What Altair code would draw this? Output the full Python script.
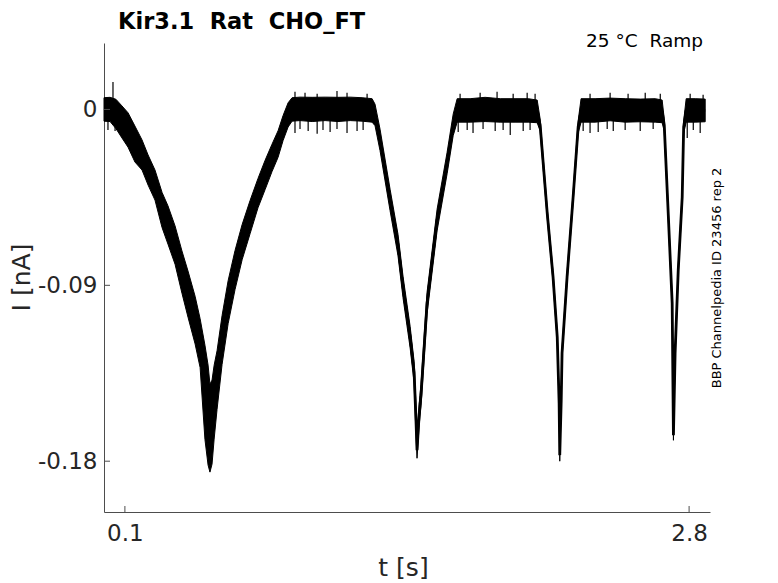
import altair as alt
import pandas as pd

# ---- data ----
t_s = [0.000, 0.029, 0.057, 0.086, 0.115, 0.148, 0.182, 0.211, 0.244, 0.278, 0.306, 0.340,
       0.373, 0.402, 0.436, 0.460, 0.483, 0.498, 0.507, 0.517, 0.527, 0.541, 0.565, 0.594,
       0.627, 0.661, 0.699, 0.737, 0.771, 0.804, 0.833, 0.857, 0.881, 0.900,
       0.938, 0.996, 1.058, 1.120, 1.178, 1.235, 1.283,
       1.297, 1.321, 1.369, 1.407, 1.431, 1.465, 1.484, 1.493, 1.498, 1.508, 1.517, 1.546,
       1.594, 1.642, 1.671, 1.690,
       1.752, 1.824, 1.896, 1.967, 2.030, 2.073,
       2.087, 2.121, 2.149, 2.169, 2.178, 2.181, 2.188, 2.192, 2.216, 2.245, 2.269, 2.283,
       2.350, 2.422, 2.494, 2.566, 2.638, 2.671,
       2.681, 2.700, 2.719, 2.725, 2.733, 2.748, 2.767, 2.774, 2.786, 2.829, 2.877]

current_nA = [0.0000, 0.0000, -0.0023, -0.0064, -0.0105, -0.0177, -0.0233, -0.0310, -0.0387,
              -0.0515, -0.0591, -0.0694, -0.0832, -0.0945, -0.1078, -0.1196, -0.1447, -0.1564,
              -0.1631, -0.1600, -0.1498, -0.1385, -0.1180, -0.0986, -0.0822, -0.0679, -0.0551,
              -0.0428, -0.0335, -0.0248, -0.0177, -0.0095, -0.0028, 0.0000,
              0.0003, 0.0000, 0.0003, 0.0000, 0.0003, 0.0000, -0.0005,
              -0.0028, -0.0156, -0.0463, -0.0694, -0.0909, -0.1165, -0.1344, -0.1590, -0.1744,
              -0.1564, -0.1462, -0.0991, -0.0566, -0.0274, -0.0079, -0.0005,
              -0.0005, 0.0000, -0.0005, -0.0005, -0.0005, -0.0010,
              -0.0079, -0.0530, -0.0858, -0.1165, -0.1503, -0.1769, -0.1488, -0.1247, -0.0858,
              -0.0448, -0.0090, -0.0005,
              -0.0005, 0.0000, -0.0005, -0.0005, -0.0005, -0.0010,
              -0.0079, -0.0530, -0.0991, -0.1667, -0.1247, -0.0822, -0.0448, -0.0090, -0.0005,
              -0.0005, -0.0005]

noise_half = [0.0060, 0.0062, 0.0075, 0.0082, 0.0088, 0.0092, 0.0077, 0.0077, 0.0077, 0.0090,
              0.0098, 0.0098, 0.0108, 0.0118, 0.0122, 0.0125, 0.0241, 0.0256, 0.0225, 0.0215,
              0.0189, 0.0150, 0.0125, 0.0110, 0.0100, 0.0090, 0.0085, 0.0075, 0.0075, 0.0070,
              0.0068, 0.0064, 0.0062, 0.0060,
              0.0060, 0.0062, 0.0060, 0.0062, 0.0060, 0.0060, 0.0060,
              0.0055, 0.0055, 0.0055, 0.0055, 0.0055, 0.0055, 0.0055, 0.0077, 0.0041, 0.0055,
              0.0055, 0.0055, 0.0055, 0.0055, 0.0055, 0.0060,
              0.0060, 0.0062, 0.0060, 0.0060, 0.0060, 0.0058,
              0.0031, 0.0025, 0.0025, 0.0025, 0.0026, 0.0031, 0.0026, 0.0025, 0.0025, 0.0025,
              0.0031, 0.0060,
              0.0060, 0.0058, 0.0060, 0.0058, 0.0060, 0.0058,
              0.0031, 0.0025, 0.0025, 0.0026, 0.0025, 0.0025, 0.0025, 0.0031, 0.0060, 0.0060,
              0.0058]

# visible noise spikes: time, top, bottom
spike_t = [0.043, 0.019, 0.053, 0.124,
           0.914, 0.938, 0.977, 1.020, 1.048, 1.082, 1.115, 1.163, 1.211, 1.240,
           0.914, 0.962, 1.020, 1.115, 1.163, 1.259,
           1.695, 1.738, 1.766, 1.814, 1.872, 1.910, 1.944, 2.006, 2.039,
           1.704, 1.800, 1.881, 1.958, 2.025, 2.063,
           2.293, 2.326, 2.365, 2.408, 2.437, 2.494, 2.566, 2.628,
           2.326, 2.422, 2.508, 2.590, 2.662,
           2.791, 2.820, 2.853, 2.805, 2.867]
spike_top = [0.0141, -0.004, -0.004, -0.012,
             -0.004, -0.004, -0.004, -0.004, -0.004, -0.004, -0.004, -0.004, -0.004, -0.004,
             0.0090, 0.0085, 0.0080, 0.0095, 0.0085, 0.0080,
             -0.004, -0.004, -0.004, -0.004, -0.004, -0.004, -0.004, -0.004, -0.004,
             0.0080, 0.0085, 0.0090, 0.0080, 0.0085, 0.0080,
             -0.004, -0.004, -0.004, -0.004, -0.004, -0.004, -0.004, -0.004,
             0.0080, 0.0085, 0.0080, 0.0085, 0.0080,
             -0.004, -0.004, -0.004, 0.0080, 0.0075]
spike_bottom = [0.004, -0.0105, -0.0110, -0.0207,
                -0.0120, -0.0100, -0.0110, -0.0125, -0.0105, -0.0115, -0.0100, -0.0120,
                -0.0110, -0.0105,
                0.004, 0.004, 0.004, 0.004, 0.004, 0.004,
                -0.0115, -0.0105, -0.0120, -0.0100, -0.0110, -0.0105, -0.0131, -0.0110,
                -0.0105,
                0.004, 0.004, 0.004, 0.004, 0.004, 0.004,
                -0.0110, -0.0120, -0.0115, -0.0100, -0.0110, -0.0105, -0.0110, -0.0100,
                0.004, 0.004, 0.004, 0.004, 0.004,
                -0.0146, -0.0105, -0.0120, 0.004, 0.004]

x_tick_values = [0.1, 2.8]
y_tick_values = [0, -0.09, -0.18]
x_domain = [0.0, 2.9]
y_domain = [-0.206, 0.034]

title_text = "Kir3.1\u00a0\u00a0Rat\u00a0\u00a0CHO_FT"
condition_text = "25 °C\u00a0\u00a0Ramp"
source_text = "BBP Channelpedia ID 23456 rep 2"

W, H = 606, 469
FONT = "DejaVu Sans"
AX = "#4d4d4d"
TXT = "#262626"

trace = pd.DataFrame({"t": t_s, "I": current_nA, "h": noise_half})
trace["upper"] = trace["I"] + trace["h"]
trace["lower"] = trace["I"] - trace["h"]
spikes = pd.DataFrame({"t": spike_t, "I": spike_top, "I2": spike_bottom})
xt = pd.DataFrame({"t": x_tick_values})
yt = pd.DataFrame({"I": y_tick_values})

x_scale = alt.Scale(domain=x_domain, nice=False, zero=False)
y_scale = alt.Scale(domain=y_domain, nice=False, zero=False)

x_axis = alt.Axis(values=x_tick_values, format=".1f", title="t [s]", grid=False, ticks=False,
                  domainColor=AX, domainWidth=1, labelFont=FONT, labelFontSize=23,
                  labelColor=TXT, labelPadding=10, titleFont=FONT, titleFontSize=25,
                  titleFontWeight="normal", titleColor=TXT, titleBaseline="alphabetic",
                  titleY=63, titleX=W / 2 - 4)
y_axis = alt.Axis(values=y_tick_values,
                  labelExpr="datum.value == 0 ? '0' : replace(format(datum.value, '.2f'), '\u2212', '-')",
                  title="I [nA]", grid=False, ticks=False, domainColor=AX, domainWidth=1,
                  labelFont=FONT, labelFontSize=23, labelColor=TXT, labelPadding=7,
                  titleFont=FONT, titleFontSize=25, titleFontWeight="normal", titleColor=TXT,
                  titleAngle=270, titleAlign="center", titleBaseline="middle",
                  titleX=-83, titleY=234)

X = alt.X("t:Q", scale=x_scale, axis=x_axis)
Y = alt.Y("I:Q", scale=y_scale, axis=y_axis)

band = alt.Chart(trace).mark_area(color="black", stroke="black", strokeWidth=1).encode(
    x=X, y=alt.Y("upper:Q", scale=y_scale, axis=y_axis), y2="lower:Q")
line = alt.Chart(trace).mark_line(color="black", strokeWidth=2.8, strokeJoin="bevel").encode(
    x=X, y=Y)
spike_layer = alt.Chart(spikes).mark_rule(color="black", strokeWidth=1.2).encode(
    x=X, y=Y, y2="I2:Q")
xticks = alt.Chart(xt).mark_rule(color=AX, strokeWidth=1).encode(
    x=X, y=alt.value(H), y2=alt.value(H - 6))
yticks = alt.Chart(yt).mark_rule(color=AX, strokeWidth=1).encode(
    y=Y, x=alt.value(0), x2=alt.value(6))

title_layer = alt.Chart(pd.DataFrame({"s": [title_text]})).mark_text(
    font=FONT, fontSize=22.5, fontWeight="bold", color="black", align="left",
    baseline="alphabetic").encode(x=alt.value(14), y=alt.value(-14), text="s:N")
cond_layer = alt.Chart(pd.DataFrame({"s": [condition_text]})).mark_text(
    font=FONT, fontSize=18.5, color="black", align="right",
    baseline="alphabetic").encode(x=alt.value(599), y=alt.value(4), text="s:N")
src_layer = alt.Chart(pd.DataFrame({"s": [source_text]})).mark_text(
    font=FONT, fontSize=13, color="black", align="center", baseline="middle",
    angle=270).encode(x=alt.value(613), y=alt.value(235), text="s:N")

chart = alt.layer(band, line, spike_layer, xticks, yticks, title_layer, cond_layer,
                  src_layer).properties(
    width=W, height=H,
    padding={"left": 96, "top": 35, "right": 56, "bottom": 72},
    autosize=alt.AutoSizeParams(type="none"),
    background="white",
).configure_view(stroke=None)

chart.save("out.html", embed_options={"renderer": "svg", "actions": False})
